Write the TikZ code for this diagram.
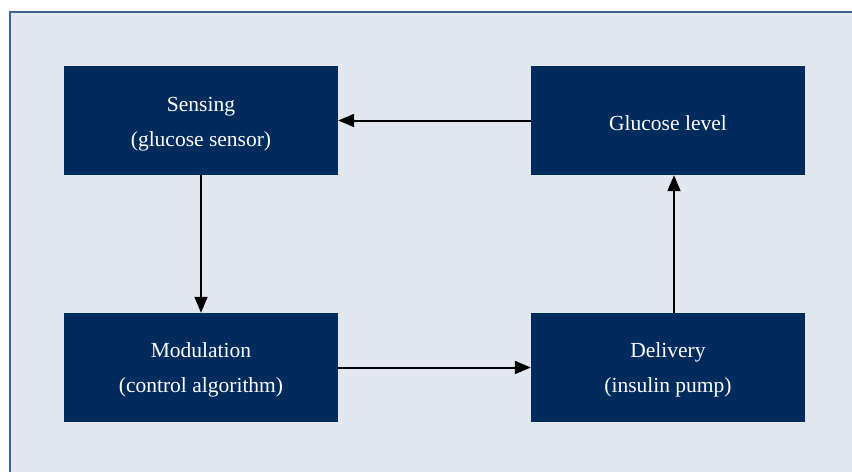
\documentclass[tikz,border=0pt]{standalone}
\usepackage{fontspec}
\setmainfont{Liberation Serif}
\usetikzlibrary{arrows.meta}
\definecolor{navy}{HTML}{002B5C}
\definecolor{bgpanel}{HTML}{E3E7F0}
\definecolor{frameline}{HTML}{3E6391}
\tikzset{
  stagebox/.style={fill=navy, draw=none, minimum width=274pt, minimum height=109pt,
    text=white, align=center, font=\fontsize{21.5}{34.5}\selectfont, inner sep=0pt},
  flow/.style={line width=2pt, -{Triangle[length=16pt,width=13pt]}}
}
\begin{document}
\begin{tikzpicture}[x=1pt,y=-1pt]
\useasboundingbox (0,0) rectangle (852,472);
\fill[white] (0,0) rectangle (852,472);
\fill[bgpanel] (10,12) rectangle (852,472);
\draw[frameline, line width=1.5pt] (10,472) -- (10,12) -- (852,12);
\node[stagebox] (sense) at (201,120.5) {};
\node[stagebox] (gluc) at (668,120.5) {};
\node[stagebox] (mod) at (201,367.5) {};
\node[stagebox] (deliv) at (668,367.5) {};
\node[text=white, align=center, font=\fontsize{21.5}{34.5}\selectfont] (senset) at (201,124) {Sensing\\(glucose sensor)};
\node[text=white, align=center, font=\fontsize{21.5}{34.5}\selectfont] (glucont) at (668,123) {Glucose level};
\node[text=white, align=center, font=\fontsize{21.5}{34.5}\selectfont] (modt) at (201,370) {Modulation\\(control algorithm)};
\node[text=white, align=center, font=\fontsize{21.5}{34.5}\selectfont] (delivt) at (668,370) {Delivery\\(insulin pump)};
\draw[flow] (gluc.west) -- (sense.east);
\draw[flow] (sense.south) -- (mod.north);
\draw[flow] (mod.east) -- (deliv.west);
\draw[flow] ([xshift=6pt]deliv.north) -- ([xshift=6pt]gluc.south);
\end{tikzpicture}
\end{document}
